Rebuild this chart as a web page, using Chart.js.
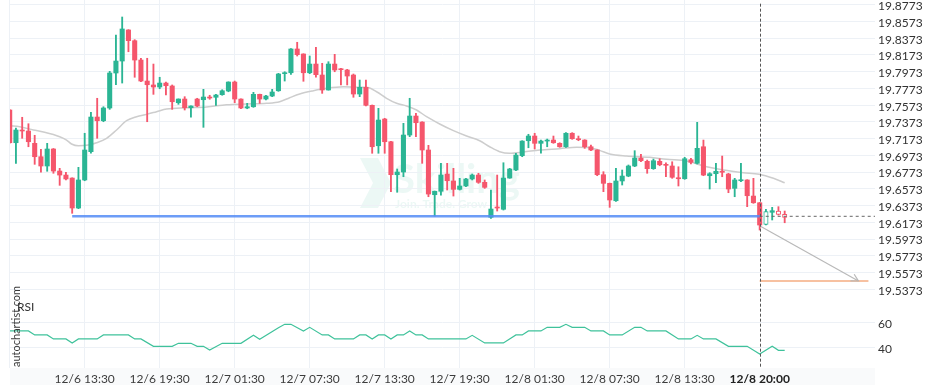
<!doctype html>
<html>

<head>
    <title>USD/MXN 30m with RSI</title>
    <script src="https://cdn.jsdelivr.net/npm/chart.js@4.4.1/dist/chart.umd.min.js"></script>
    <style>
    html, body { margin: 0; padding: 0; background: #fff; }
    #holder { width: 936px; height: 390px; }
    </style>
</head>

<body>
    <div id="holder">
        <canvas id="chart-area" width="936" height="390"></canvas>
    </div>
    <script>
        // 30 minute candles, index 0 = 12/6 07:30
        var opens = [19.7515,19.7124,19.7276,19.7264,19.7117,19.6957,19.6846,19.7049,19.6786,19.6738,
            19.6702,19.6344,19.6679,19.7017,19.7431,19.7387,19.7539,19.7957,19.8100,19.8471,
            19.8343,19.8112,19.7861,19.7814,19.7790,19.7837,19.7802,19.7602,19.7646,19.7542,
            19.7646,19.7638,19.7670,19.7667,19.7698,19.7742,19.7849,19.7646,19.7539,19.7554,
            19.7702,19.7646,19.7682,19.7745,19.7949,19.7960,19.8244,19.8184,19.7960,19.8064,
            19.7933,19.7754,19.8064,19.8008,19.7993,19.7933,19.7706,19.7786,19.7571,19.7088,
            19.7407,19.7136,19.6742,19.6774,19.7216,19.7443,19.7371,19.7037,19.6503,19.6544,
            19.6750,19.6667,19.6567,19.6607,19.6691,19.6738,19.6651,19.6233,19.6352,19.6329,
            19.6702,19.6798,19.6969,19.7148,19.7204,19.7117,19.7144,19.7156,19.7117,19.7076,
            19.7237,19.7168,19.7156,19.7076,19.7037,19.6742,19.6639,19.6431,19.6667,19.6726,
            19.6846,19.6941,19.6902,19.6814,19.6902,19.6861,19.6846,19.6702,19.6694,19.6921,
            19.6878,19.7076,19.6730,19.6754,19.6783,19.6750,19.6579,19.6670,19.6679,19.6487,
            19.6407,19.6147,19.6293,19.6308,19.6269];
        var highs = [19.7520,19.7300,19.7428,19.7351,19.7213,19.7045,19.7117,19.7055,19.6818,19.6771,
            19.6705,19.6830,19.7237,19.7487,19.7655,19.7554,19.7977,19.8411,19.8626,19.8475,
            19.8355,19.8133,19.8133,19.8064,19.7906,19.7849,19.7814,19.7648,19.7674,19.7565,
            19.7655,19.7762,19.7691,19.7702,19.7757,19.7852,19.7861,19.7648,19.7595,19.7726,
            19.7705,19.7691,19.7762,19.7953,19.7972,19.8248,19.8324,19.8187,19.8160,19.8264,
            19.8073,19.8092,19.8180,19.8013,19.8001,19.7945,19.7873,19.7873,19.7575,19.7535,
            19.7416,19.7140,19.6810,19.7356,19.7655,19.7475,19.7375,19.7093,19.6547,19.6878,
            19.6878,19.6818,19.6699,19.6699,19.6750,19.6759,19.6679,19.6559,19.6738,19.6885,
            19.6818,19.6998,19.7148,19.7225,19.7237,19.7156,19.7168,19.7204,19.7124,19.7244,
            19.7244,19.7204,19.7160,19.7097,19.7040,19.6778,19.6642,19.6818,19.6798,19.6858,
            19.7029,19.6986,19.6917,19.6929,19.6933,19.6885,19.6897,19.6837,19.6950,19.6938,
            19.7368,19.7156,19.6766,19.6878,19.6965,19.6759,19.6699,19.6878,19.6682,19.6699,
            19.6410,19.6329,19.6352,19.6360,19.6308];
        var lows = [19.7120,19.6878,19.7177,19.7076,19.6866,19.6771,19.6783,19.6759,19.6615,19.6679,
            19.6281,19.6336,19.6670,19.6998,19.7177,19.7375,19.7523,19.7817,19.7837,19.8211,
            19.7906,19.7853,19.7375,19.7702,19.7769,19.7694,19.7523,19.7583,19.7515,19.7428,
            19.7554,19.7308,19.7643,19.7571,19.7691,19.7733,19.7602,19.7530,19.7530,19.7547,
            19.7595,19.7634,19.7674,19.7738,19.7861,19.7941,19.8160,19.7858,19.7949,19.7906,
            19.7714,19.7752,19.7972,19.7814,19.7814,19.7667,19.7674,19.7563,19.6998,19.6998,
            19.6998,19.6539,19.6532,19.6718,19.7196,19.7196,19.6878,19.6479,19.6248,19.6499,
            19.6559,19.6487,19.6559,19.6599,19.6679,19.6639,19.6579,19.6221,19.6308,19.6320,
            19.6699,19.6790,19.6957,19.7064,19.7049,19.6998,19.7076,19.7117,19.7069,19.7069,
            19.7165,19.7148,19.7057,19.7029,19.6730,19.6539,19.6352,19.6424,19.6619,19.6718,
            19.6838,19.6897,19.6759,19.6806,19.6849,19.6718,19.6699,19.6607,19.6687,19.6870,
            19.6870,19.6730,19.6571,19.6646,19.6718,19.6527,19.6479,19.6658,19.6360,19.6400,
            19.6081,19.6141,19.6201,19.6260,19.6168];
        var closes = [19.7124,19.7276,19.7264,19.7136,19.6957,19.6846,19.7049,19.6786,19.6738,19.6691,
            19.6344,19.6679,19.7037,19.7431,19.7387,19.7539,19.7957,19.8100,19.8483,19.8343,
            19.8112,19.7861,19.7817,19.7790,19.7837,19.7805,19.7614,19.7646,19.7542,19.7563,
            19.7563,19.7670,19.7658,19.7694,19.7745,19.7849,19.7646,19.7539,19.7554,19.7702,
            19.7646,19.7682,19.7730,19.7945,19.7960,19.8244,19.8176,19.7960,19.8064,19.7937,
            19.7754,19.8064,19.7993,19.7996,19.7921,19.7706,19.7786,19.7571,19.7076,19.7395,
            19.7136,19.6742,19.6774,19.7216,19.7443,19.7363,19.7037,19.6511,19.6544,19.6738,
            19.6670,19.6567,19.6607,19.6691,19.6738,19.6651,19.6591,19.6332,19.6344,19.6702,
            19.6810,19.6977,19.7144,19.7204,19.7117,19.7144,19.7156,19.7124,19.7076,19.7237,
            19.7172,19.7160,19.7076,19.7037,19.6742,19.6639,19.6440,19.6667,19.6726,19.6846,
            19.6941,19.6909,19.6814,19.6909,19.6861,19.6854,19.6711,19.6694,19.6933,19.6890,
            19.7057,19.6738,19.6754,19.6783,19.6771,19.6571,19.6679,19.6682,19.6491,19.6407,
            19.6141,19.6302,19.6312,19.6269,19.6233];
        var hollowIdx = [121, 123, 124];

        // moving average
        var maIdx = [0,1.6,3.8,5.4,8,9.1,9.9,11,12.6,13.9,15.5,17.1,18.7,20.3,21.9,23.5,25.1,28.3,31.5,34.7,
            37.9,41.1,43.2,44.8,46.4,48.6,50.7,53.4,55.5,57.1,58.7,60.3,61.9,63.5,65.1,66.7,68.8,71,73.1,75.2,
            76.8,78.4,80,82.2,84.8,88,90.7,92.8,94.4,96,98.7,102.4,105.1,108.3,111.5,114.2,117.4,119.9,122.2,124];
        var maVal = [19.7327,19.7315,19.7276,19.7252,19.7196,19.7156,19.7109,19.7088,19.7097,19.7124,
            19.7177,19.7276,19.7387,19.7435,19.7463,19.7495,19.7527,19.7542,19.7551,19.7578,
            19.7587,19.7595,19.7614,19.7662,19.7706,19.7745,19.7774,19.7793,19.7786,19.7786,
            19.7733,19.7655,19.7595,19.7563,19.7515,19.7435,19.7348,19.7268,19.7204,19.7148,
            19.7076,19.7017,19.6998,19.7013,19.7037,19.7053,19.7069,19.7064,19.7033,19.6989,
            19.6965,19.6950,19.6926,19.6905,19.6837,19.6798,19.6766,19.6747,19.6699,19.6646];

        // RSI vertices
        var rsiIdx = [0,3,4,6,7,9,10,11,14,15,19,20,21,23,26,27,29,30,31,32,34,37,39,40,43,44,45,47,48,50,
            51,52,55,56,57,58,59,60,61,62,63,64,65,66,67,73,74,76,79,81,82,83,85,86,88,89,90,92,93,95,
            96,98,100,101,102,105,107,109,110,111,113,115,118,120,122,123,124];
        var rsiVal = [53.4,53.4,50.2,50.2,47,47,43.8,47,47,50.2,50.2,47,47,41.1,41.1,43.5,43.5,41.1,41.1,38.2,
            43.5,43.5,49.9,46.7,56,58.7,58.7,53.4,56.3,50.2,50.2,47,47,50.2,50.2,47,50.2,50.2,47,50.2,
            50.2,53.4,50.2,50.2,47,47,49.9,43.8,43.8,50.2,50.2,53.4,53.4,56.3,56.3,58.7,56.3,56.3,53.4,53.4,
            50.2,50.2,56.3,56.3,53.4,53.4,47,47,49.9,47,47,41.1,41.1,35,41.1,37.9,37.9];

        var priceTicks = [19.8773,19.8573,19.8373,19.8173,19.7973,19.7773,19.7573,19.7373,19.7173,
            19.6973,19.6773,19.6573,19.6373,19.6173,19.5973,19.5773,19.5573,19.5373];
        var rsiTicks = [60, 40];
        var timeTicks = [0, 12, 24, 36, 48, 60, 72, 84, 96, 108, 120];
        var timeLabels = ['', '12/6 13:30', '12/6 19:30', '12/7 01:30', '12/7 07:30', '12/7 13:30',
            '12/7 19:30', '12/8 01:30', '12/8 07:30', '12/8 13:30', '12/8 20:00'];

        var supportLevel = 19.6245, supportFrom = 10, nowIdx = 120;
        var lastPrice = 19.6245;
        var targetLevel = 19.5472, targetTo = 137.4;
        var arrowFrom = [120.05, 19.6129], arrowTo = [135.8, 19.5472];

        var GREEN = '#2bb594', RED = '#f5566c', GRID = '#edf1f6';
        Chart.defaults.font.family = 'Lato';
        Chart.defaults.font.size = 12;

        var bodyData = [], wickData = [];
        for (var i = 0; i < opens.length; i++) {
            bodyData.push({ x: i, y: [opens[i], closes[i]] });
            wickData.push({ x: i, y: [lows[i], highs[i]] });
        }
        function candleColor(c) {
            var k = c.dataIndex;
            if (k === undefined) return GREEN;
            return closes[k] >= opens[k] ? GREEN : RED;
        }
        function isHollow(c) { return hollowIdx.indexOf(c.dataIndex) >= 0; }
        function pts(xs, ys) { return xs.map(function (v, k) { return { x: v, y: ys[k] }; }); }
        function noPad(s) { s.paddingTop = 0; s.paddingBottom = 0; s.paddingLeft = 0; s.paddingRight = 0; }

        var overlay = {
            id: 'overlay',
            beforeDraw: function (chart) {
                var ctx = chart.ctx, ca = chart.chartArea;
                ctx.save();
                // x axis band
                ctx.fillStyle = '#f9fafb';
                ctx.fillRect(ca.left, ca.bottom, ca.right - ca.left, 17);
                // faint watermark
                ctx.fillStyle = 'rgba(43,181,149,0.09)';
                ctx.beginPath();
                ctx.moveTo(360, 158); ctx.lineTo(378, 158); ctx.lineTo(391, 183);
                ctx.lineTo(378, 208); ctx.lineTo(360, 208); ctx.lineTo(373, 183);
                ctx.closePath(); ctx.fill();
                ctx.font = 'bold 40px Lato';
                ctx.textBaseline = 'alphabetic';
                ctx.fillText('Skilling', 393, 193);
                ctx.font = 'bold 12px Lato';
                ctx.fillText('Join. Trade. Grow', 395, 208);
                ctx.restore();
            },
            afterDatasetsDraw: function (chart) {
                var ctx = chart.ctx, xs = chart.scales.x, ys = chart.scales.y;
                ctx.save();
                // now line
                var nx = Math.round(xs.getPixelForValue(nowIdx)) + 0.5;
                ctx.strokeStyle = '#555';
                ctx.lineWidth = 1;
                ctx.setLineDash([3, 2]);
                ctx.beginPath();
                ctx.moveTo(nx, ys.getPixelForValue(priceTicks[0]) - 1);
                ctx.lineTo(nx, chart.chartArea.bottom);
                ctx.stroke();
                ctx.setLineDash([]);
                // arrow head
                var x1 = xs.getPixelForValue(arrowFrom[0]), y1 = ys.getPixelForValue(arrowFrom[1]);
                var x2 = xs.getPixelForValue(arrowTo[0]), y2 = ys.getPixelForValue(arrowTo[1]);
                var a = Math.atan2(y2 - y1, x2 - x1), len = 8, w = 0.5;
                ctx.strokeStyle = '#b9b9b9';
                ctx.lineWidth = 1.2;
                ctx.beginPath();
                ctx.moveTo(x2 - len * Math.cos(a - w), y2 - len * Math.sin(a - w));
                ctx.lineTo(x2, y2);
                ctx.lineTo(x2 - len * Math.cos(a + w), y2 - len * Math.sin(a + w));
                ctx.stroke();
                ctx.restore();
            },
            afterDraw: function (chart) {
                var ctx = chart.ctx, rs = chart.scales.yR, ps = chart.scales.y;
                ctx.save();
                ctx.fillStyle = '#333';
                ctx.font = '12px Lato';
                ctx.textBaseline = 'middle';
                ctx.textAlign = 'left';
                // RSI axis labels
                rsiTicks.forEach(function (v) {
                    ctx.fillText(String(v), ps.left + 3, rs.getPixelForValue(v) + 1.5);
                });
                ctx.fillText('RSI', 17, 307);
                ctx.translate(16.5, 367);
                ctx.rotate(-Math.PI / 2);
                ctx.font = '11px Lato';
                ctx.fillStyle = '#3a3a3a';
                ctx.fillText('autochartist.com', 0, 0);
                ctx.restore();
            }
        };

        var ctx = document.getElementById('chart-area').getContext('2d');
        window.myChart = new Chart(ctx, {
            type: 'bar',
            data: {
                datasets: [{
                    label: 'support',
                    type: 'line',
                    yAxisID: 'y',
                    data: [{ x: supportFrom, y: supportLevel }, { x: nowIdx, y: supportLevel }],
                    borderColor: 'rgba(84,140,246,0.85)',
                    borderWidth: 2.6,
                    pointRadius: 0,
                    order: 0
                }, {
                    label: 'last',
                    type: 'line',
                    yAxisID: 'y',
                    data: [{ x: nowIdx, y: lastPrice }, { x: 138.45, y: lastPrice }],
                    borderColor: '#666',
                    borderWidth: 1,
                    borderDash: [3, 3],
                    pointRadius: 0,
                    order: 0
                }, {
                    label: 'target',
                    type: 'line',
                    yAxisID: 'y',
                    data: [{ x: nowIdx, y: targetLevel }, { x: targetTo, y: targetLevel }],
                    borderColor: '#f08444',
                    borderWidth: 1.2,
                    pointRadius: 0,
                    order: 0
                }, {
                    label: 'forecast',
                    type: 'line',
                    yAxisID: 'y',
                    data: [{ x: arrowFrom[0], y: arrowFrom[1] }, { x: arrowTo[0], y: arrowTo[1] }],
                    borderColor: '#b9b9b9',
                    borderWidth: 1.2,
                    pointRadius: 0,
                    order: 0
                }, {
                    label: 'body',
                    yAxisID: 'y',
                    data: bodyData,
                    backgroundColor: function (c) { return isHollow(c) ? '#fff' : candleColor(c); },
                    borderColor: candleColor,
                    borderWidth: function (c) { return isHollow(c) ? 1 : 0; },
                    borderSkipped: false,
                    barThickness: 4.4,
                    minBarLength: 1,
                    grouped: false,
                    order: 1
                }, {
                    label: 'wick',
                    yAxisID: 'y',
                    data: wickData,
                    backgroundColor: candleColor,
                    borderWidth: 0,
                    barThickness: 1.2,
                    grouped: false,
                    order: 2
                }, {
                    label: 'MA',
                    type: 'line',
                    yAxisID: 'y',
                    data: pts(maIdx, maVal),
                    borderColor: '#cdcdcd',
                    borderWidth: 1.5,
                    pointRadius: 0,
                    cubicInterpolationMode: 'monotone',
                    order: 3
                }, {
                    label: 'RSI',
                    type: 'line',
                    yAxisID: 'yR',
                    data: pts(rsiIdx, rsiVal),
                    borderColor: '#3fc29b',
                    borderWidth: 1.2,
                    pointRadius: 0,
                    order: 3
                }]
            },
            options: {
                responsive: false,
                animation: false,
                devicePixelRatio: 1,
                layout: { padding: { left: 10, right: 0, top: 0, bottom: 0 } },
                plugins: { legend: { display: false }, tooltip: { enabled: false } },
                scales: {
                    x: {
                        type: 'linear', min: 0.05, max: 138.45, bounds: 'data', offset: false,
                        afterBuildTicks: function (s) { s.ticks = timeTicks.map(function (v) { return { value: v }; }); },
                        afterFit: function (s) { s.height = 22; noPad(s); },
                        ticks: {
                            autoSkip: false, maxRotation: 0, minRotation: 0, padding: 4,
                            color: function (c) { return c.tick && c.tick.value === nowIdx ? '#222' : '#3c3c3c'; },
                            font: function (c) {
                                return c.tick && c.tick.value === nowIdx ? { family: 'Lato', size: 12, weight: 'bold' } : { family: 'Lato', size: 12 };
                            },
                            callback: function (v, k) { return timeLabels[k]; }
                        },
                        grid: {
                            color: function (c) { return c.tick && c.tick.value === nowIdx ? 'rgba(0,0,0,0)' : GRID; },
                            drawTicks: false, offset: false
                        },
                        border: { display: false }
                    },
                    y: {
                        type: 'linear', position: 'right', weight: 1, min: 19.443281, max: 19.882915, bounds: 'data',
                        afterBuildTicks: function (s) { s.ticks = priceTicks.map(function (v) { return { value: v }; }); },
                        afterFit: function (s) { s.width = 61; noPad(s); },
                        ticks: {
                            autoSkip: false, padding: 3, labelOffset: 1.5, color: '#333', font: { size: 12 },
                            callback: function (v) { return v.toFixed(4); }
                        },
                        grid: { color: GRID, drawTicks: false },
                        border: { display: false }
                    },
                    yR: {
                        type: 'linear', position: 'right', weight: 0, min: 23.76, max: 318.16, bounds: 'data',
                        afterBuildTicks: function (s) { s.ticks = rsiTicks.map(function (v) { return { value: v }; }); },
                        afterFit: function (s) { s.width = 0; noPad(s); },
                        ticks: { display: false },
                        grid: { color: GRID, drawTicks: false },
                        border: { display: false }
                    }
                }
            },
            plugins: [overlay]
        });
    </script>
</body>

</html>
